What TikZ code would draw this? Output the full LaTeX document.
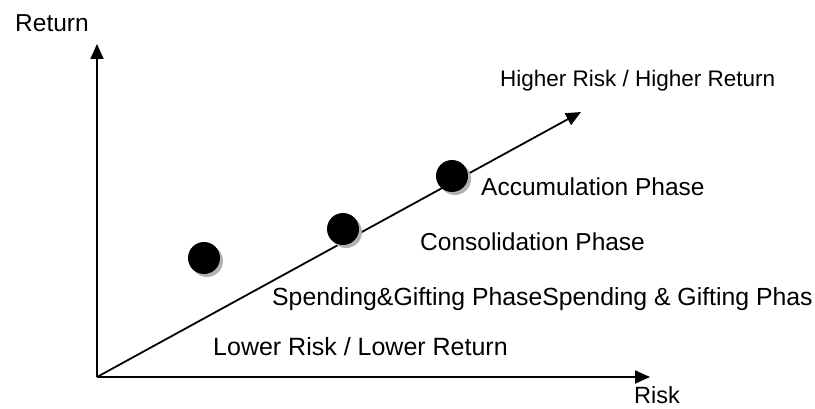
\documentclass[tikz,border=0pt]{standalone}
\usepackage{fontspec}
\setmainfont{Liberation Sans}
\usetikzlibrary{arrows.meta}

\tikzset{
  axis/.style={line width=1.8pt, -{Triangle[length=15pt,width=13pt]}},
  phase/.style={circle, fill=black, minimum width=30pt, minimum height=32pt, inner sep=0pt},
  shade/.style={circle, fill=black!30, minimum width=30pt, minimum height=32pt, inner sep=0pt},
  lbl/.style={anchor=base west, inner sep=0pt, font=\fontsize{24.5}{29}\selectfont}
}

\begin{document}
\begin{tikzpicture}[x=1pt,y=1pt]
\useasboundingbox (0,0) rectangle (815,408);
% axes and trend line
\coordinate (O) at (97,31);
\coordinate (ytop) at (97,364);
\coordinate (xend) at (650,31);
\coordinate (trend) at (581,296);
\draw[axis] (O) -- (ytop);
\draw[axis] (O) -- (xend);
\draw[axis] (O) -- (trend);
% phase dots with shadow
\foreach \name/\x/\y in {spend/204/150, cons/343/179, accum/452/232} {
  \node[shade] at (\x+3,\y-3) {};
  \node[phase] (\name) at (\x,\y) {};
}
% labels
\node[lbl] (ret) at (15,376) {Return};
\node[lbl, font=\fontsize{23.5}{28}\selectfont] (risk) at (634,5) {Risk};
\node[lbl, font=\fontsize{22.5}{27}\selectfont] (high) at (500,321) {Higher Risk / Higher Return};
\node[lbl] (accumtxt) at (481,213) {Accumulation Phase};
\node[lbl] (constxt) at (420,158) {Consolidation Phase};
\node[lbl, font=\fontsize{24.8}{29}\selectfont] (spendtxt) at (272,103) {Spending\&Gifting PhaseSpending \& Gifting Phas};
\node[lbl, font=\fontsize{25}{30}\selectfont] (low) at (213,53) {Lower Risk / Lower Return};
\end{tikzpicture}
\end{document}
